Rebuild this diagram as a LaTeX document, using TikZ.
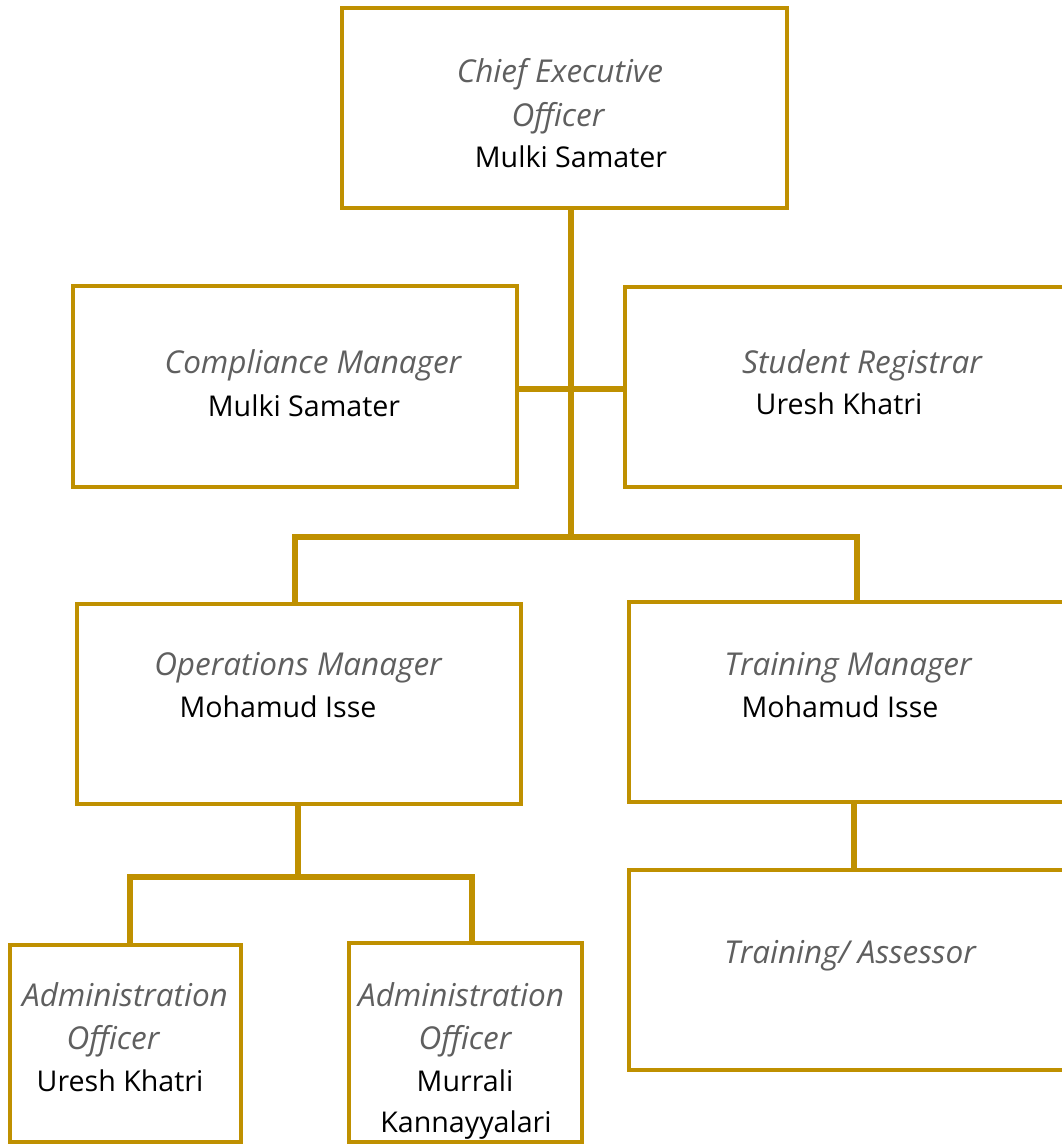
\documentclass[tikz,border=0pt]{standalone}
\usepackage{fontspec}
\setmainfont{Open Sans}
\definecolor{gold}{HTML}{BF9000}
\definecolor{titlegray}{HTML}{5F5F5F}
\tikzset{
  box/.style={draw=gold, line width=4pt, rectangle, inner sep=0pt, fill=white},
  conn/.style={draw=gold, line width=5.5pt},
  ttl/.style={anchor=base, inner sep=0pt, font=\fontsize{31.5}{36}\selectfont\itshape, text=titlegray},
  nm/.style={anchor=base, inner sep=0pt, font=\fontsize{28.6}{34}\selectfont, text=black}
}
\begin{document}
\begin{tikzpicture}[x=1pt,y=-1pt]
\clip (0,0) rectangle (1062,1144);
\fill[white] (0,0) rectangle (1062,1144);
% boxes
\node[box, minimum width=445pt, minimum height=200pt] (ceo) at (564.5,108) {};
\node[box, minimum width=444pt, minimum height=201pt] (comp) at (295,386.5) {};
\node[box, minimum width=460pt, minimum height=200pt] (reg) at (855,387) {};
\node[box, minimum width=444pt, minimum height=200pt] (ops) at (299,704) {};
\node[box, minimum width=460pt, minimum height=200pt] (tm) at (859,702) {};
\node[box, minimum width=460pt, minimum height=200pt] (ta) at (859,970) {};
\node[box, minimum width=231pt, minimum height=197pt] (a1) at (125.5,1043.5) {};
\node[box, minimum width=233pt, minimum height=199pt] (a2) at (465.5,1042.5) {};
% coordinates for connectors
\coordinate (j0) at (571,537);
\coordinate (j1) at (571,389);
\coordinate (bl) at (295,537);
\coordinate (br) at (857,537);
\coordinate (oj) at (298,877);
\coordinate (al) at (130,877);
\coordinate (ar) at (472,877);
\coordinate (tj) at (854,870);
% connectors
\draw[conn] (ceo.south -| j0) -- (j0);
\draw[conn] (comp.east |- j1) -- (reg.west |- j1);
\draw[conn] (ops.north -| bl) -- (bl) -- (br) -- (tm.north -| br);
\draw[conn] (ops.south -| oj) -- (oj);
\draw[conn] (a1.north -| al) -- (al) -- (ar) -- (a2.north -| ar);
\draw[conn] (tm.south -| tj) -- (ta.north -| tj);
% texts
\node[ttl] (ceot1) at (560,82) {Chief Executive};
\node[ttl] (ceot2) at (558,126) {Officer};
\node[nm] (ceon) at (571,167) {Mulki Samater};
\node[ttl] (compt) at (313,373) {Compliance Manager};
\node[nm] (compn) at (304,416) {Mulki Samater};
\node[ttl] (regt) at (862,373) {Student Registrar};
\node[nm] (regn) at (839,414) {Uresh Khatri};
\node[ttl] (opst) at (298,675) {Operations Manager};
\node[nm] (opsn) at (278,717) {Mohamud Isse};
\node[ttl] (tmt) at (848,675) {Training Manager};
\node[nm] (tmn) at (840,717) {Mohamud Isse};
\node[ttl] (tat) at (850,963) {Training/ Assessor};
\node[ttl] (a1t1) at (125,1006) {Administration};
\node[ttl] (a1t2) at (113,1049) {Officer};
\node[nm] (a1n) at (120,1091) {Uresh Khatri};
\node[ttl] (a2t1) at (461,1006) {Administration};
\node[ttl] (a2t2) at (465,1049) {Officer};
\node[nm] (a2n1) at (465,1091) {Murrali};
\node[nm] (a2n2) at (466,1132) {Kannayyalari};
\end{tikzpicture}
\end{document}
